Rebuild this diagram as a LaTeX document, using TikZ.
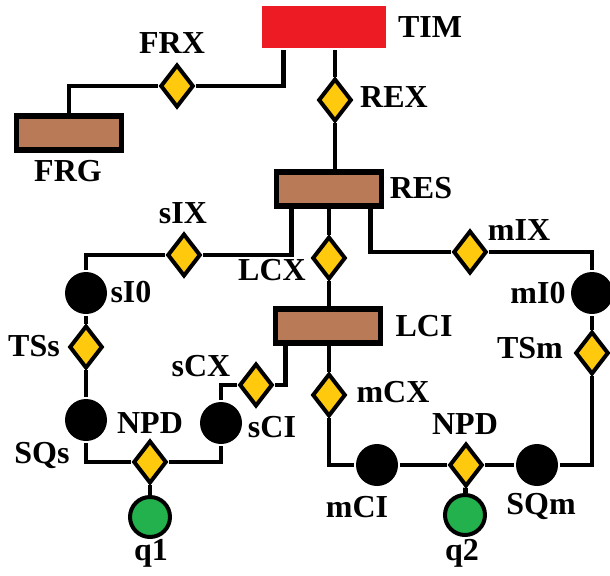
\documentclass[tikz,border=0pt]{standalone}
\usepackage{fontspec}
\setmainfont{Liberation Serif}
\usetikzlibrary{shapes.geometric, calc}

\definecolor{timred}{HTML}{ED1C24}
\definecolor{boxbrown}{HTML}{B97A57}
\definecolor{linkgold}{HTML}{FFC90E}
\definecolor{qgreen}{HTML}{22B14C}

\begin{document}
\begin{tikzpicture}[
    x=0.75pt, y=-0.75pt,
    line width=3.6pt,
    topbox/.style={fill=timred, minimum width=93pt, minimum height=31.5pt, inner sep=0pt},
    unitbox/.style={draw=black, fill=boxbrown, line width=3.8pt, minimum width=79pt, minimum height=25.5pt, inner sep=0pt},
    link/.style={diamond, draw=black, fill=linkgold, line width=3pt, minimum width=25pt, minimum height=32pt, inner sep=0pt},
    dot/.style={circle, fill=black, minimum size=31.5pt, inner sep=0pt},
    qbit/.style={circle, draw=black, fill=qgreen, line width=3pt, minimum size=30pt, inner sep=0pt},
    lbl/.style={font=\fontsize{24}{28}\selectfont\bfseries, inner sep=0pt},
]
\useasboundingbox (0,0) rectangle (610,575);

% boxes
\node[topbox] (tim) at (324,27) {};
\node[unitbox] (frg) at (69,133) {};
\node[unitbox] (res) at (329,189) {};
\node[unitbox] (lci) at (328,326) {};

% links
\node[link] (frx) at (177,86) {};
\node[link] (rex) at (335,100) {};
\node[link] (six) at (184,255) {};
\node[link] (lcx) at (329,258) {};
\node[link] (mix) at (470,252) {};
\node[link] (tss) at (86,347) {};
\node[link] (tsm) at (592,353) {};
\node[link] (scx) at (256,385) {};
\node[link] (mcx) at (329,395) {};
\node[link] (npda) at (150,462) {};
\node[link] (npdb) at (466,465) {};

% dots
\node[dot] (si0) at (86,293) {};
\node[dot] (mi0) at (592,293) {};
\node[dot] (sqs) at (86,420) {};
\node[dot] (sci) at (221,423) {};
\node[dot] (mci) at (377,465) {};
\node[dot] (sqm) at (537,465) {};
\node[qbit] (qa) at (150,517) {};
\node[qbit] (qb) at (465,515) {};

% labels
\node[lbl] (ltim) at (430,27) {TIM};
\node[lbl] (lfrx) at (172,43) {FRX};
\node[lbl] (lfrg) at (68,171) {FRG};
\node[lbl] (lrex) at (394,97) {REX};
\node[lbl] (lres) at (421,188) {RES};
\node[lbl] (lsix) at (183,213) {sIX};
\node[lbl] (llcx) at (272,270) {LCX};
\node[lbl] (lmix) at (519,230) {mIX};
\node[lbl] (lsi0) at (131,292) {sI0};
\node[lbl] (lmi0) at (538,293) {mI0};
\node[lbl] (llci) at (424,326) {LCI};
\node[lbl] (ltss) at (34,346) {TSs};
\node[lbl] (ltsm) at (530,348) {TSm};
\node[lbl] (lscx) at (201,366) {sCX};
\node[lbl] (lmcx) at (393,392) {mCX};
\node[lbl] (lnpda) at (150,423) {NPD};
\node[lbl] (lnpdb) at (465,424) {NPD};
\node[lbl] (lsci) at (272,427) {sCI};
\node[lbl] (lsqs) at (42,455) {SQs};
\node[lbl] (lmci) at (357,507) {mCI};
\node[lbl] (lsqm) at (541,506) {SQm};
\node[lbl] (lqa) at (151,553) {q1};
\node[lbl] (lqb) at (462,553) {q2};

% connectors
\draw (frg.north) |- (frx.west);
\draw (frx.east) -| ($(tim.south west)+(24,0)$);
\draw (tim.south -| rex) -- (rex.north);
\draw (rex.south) -- (rex |- res.north);
\draw ($(res.south west)+(18,0)$) |- (six.east);
\draw (six.west) -| (si0.north);
\draw (si0) -- (tss);
\draw (tss) -- (sqs);
\draw (sqs.south) |- (npda.west);
\draw (npda.east) -| (sci.south);
\draw (npda) -- (qa);
\draw (sci.north) |- (scx.west);
\draw (scx.east) -| ($(lci.south west)+(13,0)$);
\draw (res.south -| lcx) -- (lcx.north);
\draw (lcx.south) -- (lcx |- lci.north);
\draw ($(res.south east)+(-14,0)$) |- (mix.west);
\draw (mix.east) -| (mi0.north);
\draw (mi0) -- (tsm);
\draw (tsm.south) |- (sqm.east);
\draw (sqm) -- (npdb);
\draw (npdb) -- (mci);
\draw (npdb) -- (qb);
\draw (mci.west) -| (mcx.south);
\draw (mcx.north) -- (mcx |- lci.south);
\end{tikzpicture}
\end{document}
